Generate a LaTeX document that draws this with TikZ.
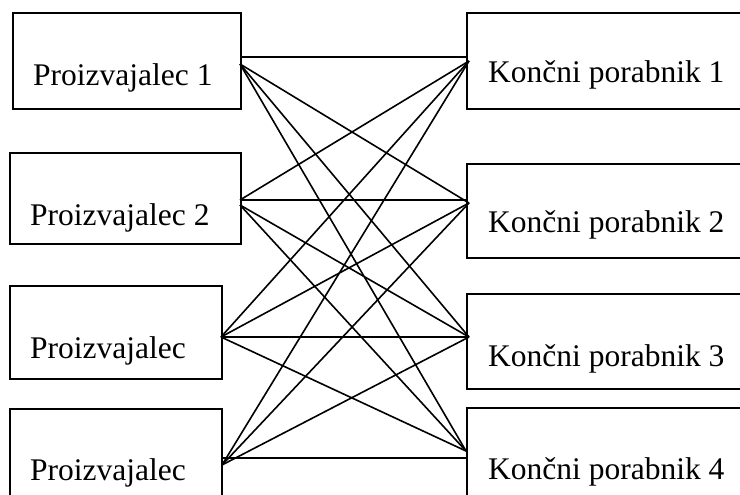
\documentclass[tikz,border=0pt]{standalone}
\usepackage{fontspec}
\setmainfont{Liberation Serif}
\begin{document}
\begin{tikzpicture}[x=1pt,y=-1pt,
  box/.style={draw, line width=1.7pt, rectangle, inner sep=0pt, anchor=north west},
  lbl/.style={anchor=base west, inner sep=0pt, font=\fontsize{31.5}{36}\selectfont},
  conn/.style={line width=1.6pt}]
\useasboundingbox (0,0) rectangle (740,495);
\clip (0,0) rectangle (740,495);
% boxes
\node[box, minimum width=228pt, minimum height=96pt] (p1) at (12,12) {};
\node[box, minimum width=231pt, minimum height=91pt] (p2) at (9,152) {};
\node[box, minimum width=212pt, minimum height=93pt] (p3) at (9,285) {};
\node[box, minimum width=212pt, minimum height=100pt] (p4) at (9,408) {};
\node[box, minimum width=300pt, minimum height=96pt] (k1) at (466,12) {};
\node[box, minimum width=300pt, minimum height=94pt] (k2) at (466,163) {};
\node[box, minimum width=300pt, minimum height=95pt] (k3) at (466,293) {};
\node[box, minimum width=300pt, minimum height=100pt] (k4) at (466,407) {};
% labels
\node[lbl] (tp1) at (33,85) {Proizvajalec 1};
\node[lbl] (tp2) at (30,225) {Proizvajalec 2};
\node[lbl] (tp3) at (30,358) {Proizvajalec};
\node[lbl] (tp4) at (30,480) {Proizvajalec};
\node[lbl] (tk1) at (488,83) {Končni porabnik 1};
\node[lbl] (tk2) at (488,232) {Končni porabnik 2};
\node[lbl] (tk3) at (488,366) {Končni porabnik 3};
\node[lbl] (tk4) at (488,479) {Končni porabnik 4};
% connection points
\coordinate (p1h) at (240,57);
\coordinate (p1d) at (240,64);
\coordinate (p2h) at (240,200);
\coordinate (p2d) at (240,205);
\coordinate (p3c) at (221,337);
\coordinate (p4u) at (222,465);
\coordinate (p4h) at (222,458);
\coordinate (k1h) at (466,57);
\coordinate (k1c) at (469,61);
\coordinate (k2h) at (466,200);
\coordinate (k2c) at (469,203);
\coordinate (k3h) at (466,337);
\coordinate (k3c) at (469,337);
\coordinate (k4h) at (466,458);
\coordinate (k4c) at (466,451);
% connectors
\draw[conn] (p1h) -- (k1h);
\draw[conn] (p1d) -- (k2c);
\draw[conn] (p1d) -- (k3c);
\draw[conn] (p1d) -- (k4c);
\draw[conn] (p2h) -- (k1c);
\draw[conn] (p2h) -- (k2h);
\draw[conn] (p2d) -- (k3c);
\draw[conn] (p2d) -- (k4c);
\draw[conn] (p3c) -- (k1c);
\draw[conn] (p3c) -- (k2c);
\draw[conn] (p3c) -- (k3h);
\draw[conn] (p3c) -- (k4c);
\draw[conn] (p4u) -- (k1c);
\draw[conn] (p4u) -- (k2c);
\draw[conn] (p4u) -- (k3c);
\draw[conn] (p4h) -- (k4h);
\end{tikzpicture}
\end{document}
